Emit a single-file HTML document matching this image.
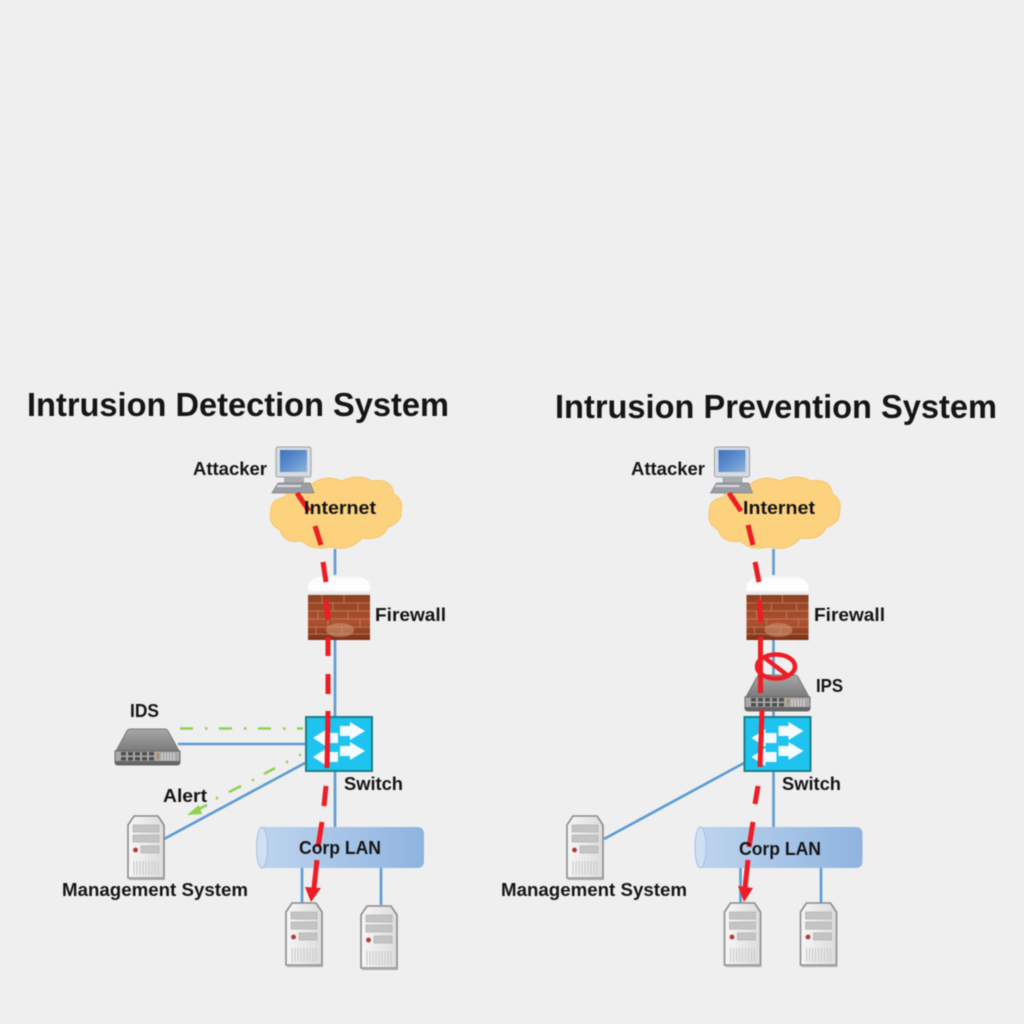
<!DOCTYPE html>
<html><head><meta charset="utf-8"><style>
html,body{margin:0;padding:0;background:#efefef}
svg{display:block;filter:blur(.45px)}
text{font-family:"Liberation Sans",sans-serif;font-weight:bold;fill:#151515}
.t{font-size:33px}
.l{font-size:18px}
</style></head><body>
<svg width="1024" height="1024" viewBox="0 0 1024 1024" xmlns="http://www.w3.org/2000/svg">
<defs>
<linearGradient id="mon" x1="0" y1="0" x2="1" y2="1"><stop offset="0" stop-color="#3f70b8"/><stop offset=".5" stop-color="#5f8fd0"/><stop offset="1" stop-color="#8fb2dc"/></linearGradient>
<linearGradient id="brick" x1="0" y1="0" x2="0" y2="1"><stop offset="0" stop-color="#8e3f22"/><stop offset=".6" stop-color="#ae5230"/><stop offset="1" stop-color="#7d3218"/></linearGradient>
<linearGradient id="cap" x1="0" y1="0" x2="0" y2="1"><stop offset="0" stop-color="#fbfbfb"/><stop offset=".7" stop-color="#ffffff"/><stop offset="1" stop-color="#dedede"/></linearGradient>
<linearGradient id="pipe" x1="0" y1="0" x2="1" y2="0"><stop offset="0" stop-color="#bdd4ee"/><stop offset="1" stop-color="#8fb4e0"/></linearGradient>
<linearGradient id="srv" x1="0" y1="0" x2="1" y2="0"><stop offset="0" stop-color="#f6f6f6"/><stop offset="1" stop-color="#dcdcdc"/></linearGradient>
<linearGradient id="dev" x1="0" y1="0" x2="0" y2="1"><stop offset="0" stop-color="#a8a8a8"/><stop offset="1" stop-color="#7a7a7a"/></linearGradient>

<g id="server">
<path d="M1 63V10L7 1H31L37 10V63Z" fill="url(#srv)" stroke="#8b8b8b" stroke-width="1.6"/>
<rect x="2" y="63" width="36" height="2" fill="#aaa"/>
<rect x="6" y="10" width="26" height="7" fill="#c4c4c4" stroke="#aaa" stroke-width=".6"/>
<rect x="6" y="20" width="26" height="7" fill="#c4c4c4" stroke="#aaa" stroke-width=".6"/>
<rect x="14" y="31" width="18" height="7" fill="#c4c4c4" stroke="#aaa" stroke-width=".6"/>
<circle cx="8.500" cy="35" r="2.400" fill="#b03a3a"/>
<path d="M7 46V60M10 46V60M13 46V60M16 46V60M19 46V60M22 46V60M25 46V60M28 46V60M31 46V60" stroke="#c8c8c8" stroke-width="1"/>
</g>

<g id="device">
<path d="M1 22L12 2Q13 0 16 0H49Q52 0 53 2L64 22Z" fill="url(#dev)" stroke="#777" stroke-width="1"/>
<path d="M0 22H65V33Q65 36 62 36H3Q0 36 0 33Z" fill="#a9a9a9" stroke="#6a6a6a" stroke-width="1"/>
<path d="M0 32H65V34Q65 36 62 36H3Q0 36 0 34Z" fill="#666"/>
<g fill="#4e4e4e"><rect x="6" y="23" width="5" height="3.500"/><rect x="13" y="23" width="5" height="3.500"/><rect x="20" y="23" width="5" height="3.500"/><rect x="27" y="23" width="5" height="3.500"/><rect x="34" y="23" width="5" height="3.500"/><rect x="6" y="28" width="5" height="3.500"/><rect x="13" y="28" width="5" height="3.500"/><rect x="20" y="28" width="5" height="3.500"/><rect x="27" y="28" width="5" height="3.500"/><rect x="34" y="28" width="5" height="3.500"/></g>
<rect x="42" y="24" width="2" height="6" fill="#b08a4a"/>
<path d="M47 24V32M50 24V32M53 24V32M56 24V32M59 24V32" stroke="#d8d8d8" stroke-width="1"/>
</g>

<g id="pc">
<rect x="2" y="0" width="35" height="30" rx="2" fill="#d6dbe0" stroke="#9aa2aa" stroke-width="1"/>
<rect x="6" y="3" width="27" height="22" fill="url(#mon)"/>
<rect x="10" y="30" width="20" height="6" fill="#a9adb1"/>
<path d="M4 36H36L40 46H-2Z" fill="#9a9ea3" stroke="#808488" stroke-width=".8"/>
<rect x="3" y="38" width="24" height="2" fill="#d8dadc"/>
</g>

<g id="cloud">
<path d="M285 497Q290 480 312 484Q325 474 342 481Q358 473 372 481Q392 478 394 494Q404 500 401 512Q402 522 388 527Q382 541 362 538Q350 552 330 547Q312 551 302 541Q284 544 280 530Q268 524 271 511Q270 500 285 497Z" fill="#fdd27f" stroke="#f5c469" stroke-width="1"/>
</g>

<g id="firewall">
<path d="M308 595V585Q312 577 322 577H356Q366 577 370 585V595Z" fill="url(#cap)"/>
<rect x="308" y="595" width="62" height="45" fill="url(#brick)"/>
<path d="M308 603H370M308 611H370M308 619H370M308 627H370M308 634H370" stroke="#c98a6a" stroke-width="1" opacity=".7"/>
<path d="M322 595V603M344 595V603M358 603V611M333 603V611M318 611V619M348 611V619M328 619V627M360 619V627M316 627V634M342 627V634" stroke="#c98a6a" stroke-width="1" opacity=".7"/>
<ellipse cx="340" cy="630" rx="14" ry="7" fill="#d59a78" opacity=".55"/>
</g>

<g id="switch">
<rect x="306" y="717" width="66" height="54" fill="#1fc3ef" stroke="#1d7f86" stroke-width="2"/>
<g fill="#f3fbff">
<path d="M313 738L327 729V733H338V743H327V747Z"/>
<path d="M313 757L327 748V752H338V762H327V766Z"/>
<path d="M365 731L350 722V726H340V736H350V740Z"/>
<path d="M365 751L350 742V746H340V756H350V760Z"/>
</g>
</g>

<g id="lan">
<path d="M262 827H417Q424 827 424 834V861Q424 868 417 868H262Z" fill="url(#pipe)"/>
<ellipse cx="262" cy="847.500" rx="5.500" ry="20.500" fill="#cfe0f3" stroke="#a4c0e0" stroke-width="1"/>
</g>
</defs>

<rect width="1024" height="1024" fill="#efefef"/>

<text class="t" x="27" y="416" textLength="422" lengthAdjust="spacingAndGlyphs">Intrusion Detection System</text>
<text class="t" x="555" y="418" textLength="442" lengthAdjust="spacingAndGlyphs">Intrusion Prevention System</text>

<!-- LEFT -->
<g stroke="#5b9bd5" stroke-width="2.600" fill="none">
<path d="M335 549V575M335 640V716M335 772V827M302 868V903M381 868V905M178 744H305M164 839L305 763"/>
</g>
<use href="#cloud"/>
<use href="#firewall"/>
<use href="#switch"/>
<use href="#lan"/>
<use href="#pc" x="274" y="447"/>
<use href="#device" x="115" y="729"/>
<use href="#server" x="127" y="815"/>
<use href="#server" x="285" y="902"/>
<use href="#server" x="360" y="905"/>
<g stroke="#8fd14f" stroke-width="2.600" fill="none">
<path d="M180 728.500H193M205 728.500H207.500M219 728.500H232M244 728.500H246.500M258 728.500H271M283 728.500H285.500M297 728.500H303"/>
<path d="M301 754.500L299 755.500M288 761.500L286 762.500M275 768L264 774M254 779.500L252 780.500M241 786L229 792M218 797.500L216 798.500M207 805L196 810.500"/>
</g>
<path d="M199 805L187 815L202 814Z" fill="#8fd14f"/>
<g stroke="#ee1c25" stroke-width="5" fill="none">
<path d="M297 493L309 511M315 526L321 545M323 562L326 582M326 600L328 620M328 637V656M328 674V694M328 711L327 768M326 786L324 806M322 822L318 847M317 860L314 888"/>
</g>
<path d="M305 887L321 888L311 902Z" fill="#ee1c25"/>

<text class="l" x="193" y="475" textLength="74" lengthAdjust="spacingAndGlyphs">Attacker</text>
<text class="l" x="304" y="514" textLength="72" lengthAdjust="spacingAndGlyphs">Internet</text>
<text class="l" x="375" y="621" textLength="71" lengthAdjust="spacingAndGlyphs">Firewall</text>
<text class="l" x="130" y="717" textLength="29" lengthAdjust="spacingAndGlyphs">IDS</text>
<text class="l" x="344" y="790" textLength="59" lengthAdjust="spacingAndGlyphs">Switch</text>
<text class="l" x="163" y="802" textLength="44" lengthAdjust="spacingAndGlyphs">Alert</text>
<text class="l" x="299" y="854" textLength="82" lengthAdjust="spacingAndGlyphs">Corp LAN</text>
<text class="l" x="62" y="896" textLength="186" lengthAdjust="spacingAndGlyphs">Management System</text>

<!-- RIGHT -->
<g stroke="#5b9bd5" stroke-width="2.600" fill="none">
<path d="M773.500 549V575M773.500 640V716M773.500 772V827M740.500 868V903M821 868V905M604 839L744 763"/>
</g>
<g transform="translate(438.500 0)">
<use href="#cloud"/>
<use href="#firewall"/>
<use href="#switch"/>
<use href="#lan"/>
<use href="#pc" x="274" y="447"/>
<use href="#server" x="285" y="902"/>
<use href="#server" x="361" y="902"/>
</g>
<use href="#server" x="566" y="815"/>
<use href="#device" x="745" y="675"/>
<g stroke="#ee1c25" stroke-width="5" fill="none">
<path d="M729 493L741 511M748 525L753 545M755 562L759 582M759 600L761 622M760.500 637V693M762 710L760 767M758 786L755 804M753 822L749 847M748 860L745 888"/>
</g>
<path d="M738 886L753 888L744 902Z" fill="#ee1c25"/>
<ellipse cx="776" cy="666.500" rx="19" ry="12" fill="none" stroke="#ee1c25" stroke-width="4.500"/>
<path d="M765 658L787 675" stroke="#ee1c25" stroke-width="4.500"/>

<text class="l" x="631" y="475" textLength="74" lengthAdjust="spacingAndGlyphs">Attacker</text>
<text class="l" x="743" y="514" textLength="72" lengthAdjust="spacingAndGlyphs">Internet</text>
<text class="l" x="814" y="621" textLength="71" lengthAdjust="spacingAndGlyphs">Firewall</text>
<text class="l" x="816" y="692" textLength="27" lengthAdjust="spacingAndGlyphs">IPS</text>
<text class="l" x="782" y="790" textLength="59" lengthAdjust="spacingAndGlyphs">Switch</text>
<text class="l" x="739" y="855" textLength="82" lengthAdjust="spacingAndGlyphs">Corp LAN</text>
<text class="l" x="501" y="896" textLength="186" lengthAdjust="spacingAndGlyphs">Management System</text>
</svg>
</body></html>
